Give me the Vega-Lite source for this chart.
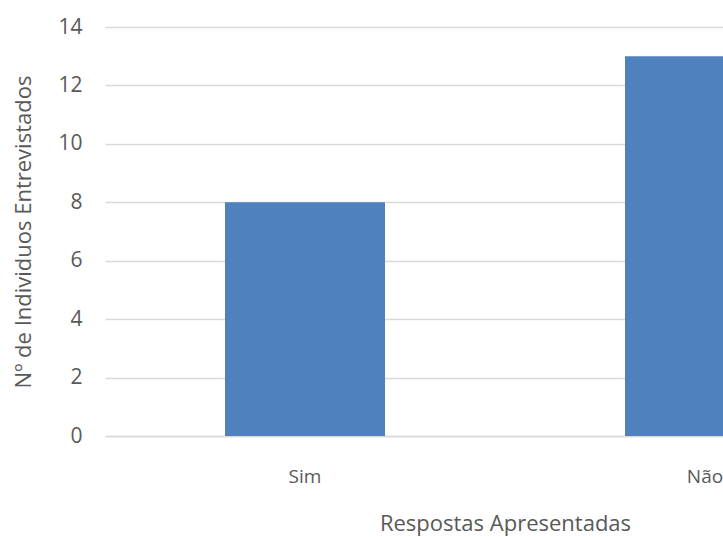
{
  "$schema": "https://vega.github.io/schema/vega-lite/v6.json",
  "autosize": "none",
  "width": 800,
  "height": 409,
  "padding": {"left": 105, "top": 27, "right": 0, "bottom": 101},
  "background": "white",
  "data": {"values": [
    {"resposta": "Sim", "n": 8},
    {"resposta": "Não", "n": 13}
  ]},
  "mark": {"type": "bar", "color": "#4F81BD"},
  "encoding": {
    "x": {
      "field": "resposta", "type": "nominal", "sort": ["Sim", "Não"],
      "scale": {"paddingInner": 0.6, "paddingOuter": 0.3},
      "axis": {
        "title": "Respostas Apresentadas", "labelAngle": 0,
        "domainColor": "#D9D9D9", "domainWidth": 1.5, "ticks": false,
        "labelPadding": 31, "labelFontSize": 19, "labelColor": "#595959", "labelFont": "Open Sans",
        "titleFont": "Open Sans", "titleFontSize": 22, "titleFontWeight": "normal", "titleColor": "#595959",
        "titlePadding": 27, "titleX": 400
      }
    },
    "y": {
      "field": "n", "type": "quantitative",
      "scale": {"domain": [0, 14], "nice": false},
      "axis": {
        "title": "Nº de Individuos Entrevistados", "values": [0, 2, 4, 6, 8, 10, 12, 14],
        "grid": true, "gridColor": "#D9D9D9", "gridWidth": 1.5, "domain": false, "ticks": false,
        "labelPadding": 23, "labelFontSize": 21, "labelColor": "#595959", "labelFont": "Open Sans",
        "titleFont": "Open Sans", "titleFontSize": 22, "titleFontWeight": "normal", "titleColor": "#595959",
        "titlePadding": 22
      }
    }
  },
  "config": {"view": {"stroke": null}}
}
